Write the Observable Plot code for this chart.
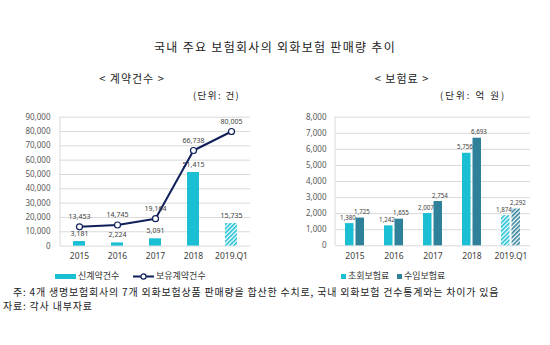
<!DOCTYPE html>
<html><head><meta charset="utf-8">
<script src="https://cdn.jsdelivr.net/npm/d3@7"></script>
<script src="https://cdn.jsdelivr.net/npm/@observablehq/plot@0.6"></script>
<style>
body{margin:0;background:#fff;}
#wrap{position:relative;width:550px;height:345px;background:#fff;font-family:"Noto Sans CJK KR","Noto Sans",sans-serif;color:#222;overflow:hidden;}
.t{position:absolute;white-space:nowrap;line-height:1;}
.abs{position:absolute;}
</style></head><body>
<svg width="0" height="0" style="position:absolute">
<defs>
<pattern id="hatchC" patternUnits="userSpaceOnUse" width="3" height="3" patternTransform="rotate(45)">
<rect width="3" height="3" fill="#ffffff"/><rect width="1.6" height="3" fill="#1bbfd4"/></pattern>
<pattern id="hatchT" patternUnits="userSpaceOnUse" width="3" height="3" patternTransform="rotate(45)">
<rect width="3" height="3" fill="#ffffff"/><rect width="1.6" height="3" fill="#2f8199"/></pattern>
</defs></svg>
<div id="wrap">
<div class="t" style="left:0;width:550px;text-align:center;top:41px;font-size:12px;letter-spacing:1.3px;">국내 주요 보험회사의 외화보험 판매량 추이</div>
<div class="t" style="left:77px;width:110px;text-align:center;top:73px;font-size:11px;letter-spacing:1px;">&lt; 계약건수 &gt;</div>
<div class="t" style="left:347px;width:110px;text-align:center;top:73px;font-size:11px;letter-spacing:1px;">&lt; 보험료 &gt;</div>
<div class="t" style="left:193px;top:91px;font-size:9.5px;letter-spacing:1.4px;">(단위: 건)</div>
<div class="t" style="left:440px;top:91px;font-size:9.5px;letter-spacing:2px;">(단위: 억 원)</div>
<div id="left" class="abs" style="left:0;top:105px;"></div>
<div id="right" class="abs" style="left:270px;top:105px;"></div>
<div class="abs" style="left:55px;top:274px;width:21px;height:5px;background:#1bbfd4;"></div>
<div class="t" style="left:78px;top:271px;font-size:9px;color:#333;">신계약건수</div>
<svg class="abs" style="left:133px;top:272px;" width="21" height="9"><line x1="0" y1="4.5" x2="21" y2="4.5" stroke="#0f1f5a" stroke-width="2"/><circle cx="10.5" cy="4.5" r="2.6" fill="#fff" stroke="#0f1f5a" stroke-width="1.2"/></svg>
<div class="t" style="left:156px;top:271px;font-size:9px;color:#333;">보유계약건수</div>
<div class="abs" style="left:341px;top:274px;width:5px;height:5px;background:#1bbfd4;"></div>
<div class="t" style="left:348px;top:271px;font-size:9px;color:#333;">초회보험료</div>
<div class="abs" style="left:397px;top:274px;width:5px;height:5px;background:#2f8199;"></div>
<div class="t" style="left:404px;top:271px;font-size:9px;color:#333;">수입보험료</div>
<div class="t" style="left:13px;top:287px;font-size:10px;letter-spacing:0.8px;">주: 4개 생명보험회사의 7개 외화보험상품 판매량을 합산한 수치로, 국내 외화보험 건수통계와는 차이가 있음</div>
<div class="t" style="left:3px;top:301px;font-size:10px;letter-spacing:0.8px;">자료: 각사 내부자료</div>
</div>
<script>
const years = ["2015", "2016", "2017", "2018", "2019.Q1"];
const newContracts = [3181, 2224, 5091, 51415, 15735];
const heldContracts = [13453, 14745, 19164, 66738, 80005];
const firstPremium = [1380, 1242, 2007, 5756, 1874];
const incomePremium = [1725, 1655, 2754, 6693, 2292];
const leftTicks = [0, 10000, 20000, 30000, 40000, 50000, 60000, 70000, 80000, 90000];
const rightTicks = [0, 1000, 2000, 3000, 4000, 5000, 6000, 7000, 8000];

const CYAN = "#1bbfd4", TEAL = "#2f8199", NAVY = "#0f1f5a", GRID = "#d9d9d9", LBL = "#404040";
const fmt = d3.format(",");
const fontFam = "'Noto Sans','Noto Sans CJK KR',sans-serif";

const leftData = years.map((y, i) => ({year: y, n: newContracts[i], h: heldContracts[i]}));
const rightData = years.map((y, i) => ({year: y, a: firstPremium[i], b: incomePremium[i]}));
const isQ1 = d => d.year === years[years.length - 1];

function addAxisLine(svg, plot) {
  const xr = plot.scale("x").range, yr = plot.scale("y").range;
  d3.select(svg).append("line")
    .attr("x1", xr[0]).attr("x2", xr[0]).attr("y1", yr[0]).attr("y2", yr[1])
    .attr("stroke", GRID).attr("stroke-width", 1);
}

const left = Plot.plot({
  width: 260, height: 165,
  marginLeft: 60, marginRight: 10, marginTop: 11.7, marginBottom: 24.4,
  style: {fontFamily: fontFam, background: "transparent", overflow: "visible"},
  x: {domain: years, padding: 0, label: null},
  y: {domain: [0, 90000], label: null},
  marks: [
    Plot.gridY(leftTicks, {stroke: GRID, strokeOpacity: 1}),
    Plot.axisY(leftTicks, {tickSize: 0, tickPadding: 10, tickFormat: fmt, fontSize: 8, fill: "#595959", label: null}),
    Plot.axisX({tickSize: 0, tickPadding: 7, fontSize: 8.5, fill: LBL, label: null}),
    Plot.barY(leftData, {x: "year", y: "n", fill: d => isQ1(d) ? "url(#hatchC)" : CYAN, insetLeft: 13, insetRight: 13}),
    Plot.text(leftData, {x: "year", y: "n", text: d => fmt(d.n), dy: -8, fontSize: 7, fill: LBL}),
    Plot.line(leftData, {x: "year", y: "h", stroke: NAVY, strokeWidth: 2}),
    Plot.dot(leftData, {x: "year", y: "h", r: 3, fill: "#fff", stroke: NAVY, strokeWidth: 1.2}),
    Plot.text(leftData, {x: "year", y: "h", text: d => fmt(d.h), dy: -10, fontSize: 7, fill: LBL})
  ]
});
addAxisLine(left, left);
document.getElementById("left").appendChild(left);

const right = Plot.plot({
  width: 270, height: 165,
  marginLeft: 65, marginRight: 10, marginTop: 11.7, marginBottom: 24.7,
  style: {fontFamily: fontFam, background: "transparent", overflow: "visible"},
  x: {domain: years, padding: 0, label: null},
  y: {domain: [0, 8000], label: null},
  marks: [
    Plot.gridY(rightTicks, {stroke: GRID, strokeOpacity: 1}),
    Plot.axisY(rightTicks, {tickSize: 0, tickPadding: 9, tickFormat: fmt, fontSize: 8, fill: "#595959", label: null}),
    Plot.axisX({tickSize: 0, tickPadding: 7, fontSize: 8.5, fill: LBL, label: null}),
    Plot.barY(rightData, {x: "year", y: "a", fill: d => isQ1(d) ? "url(#hatchC)" : CYAN, insetLeft: 10, insetRight: 20.5}),
    Plot.barY(rightData, {x: "year", y: "b", fill: d => isQ1(d) ? "url(#hatchT)" : TEAL, insetLeft: 20.5, insetRight: 10}),
    Plot.text(rightData, {x: "year", y: "a", text: d => fmt(d.a), dx: -7, dy: -6, fontSize: 6.2, fill: LBL}),
    Plot.text(rightData, {x: "year", y: "b", text: d => fmt(d.b), dx: 7, dy: -6, fontSize: 6.2, fill: LBL})
  ]
});
addAxisLine(right, right);
document.getElementById("right").appendChild(right);
</script>
</body></html>
